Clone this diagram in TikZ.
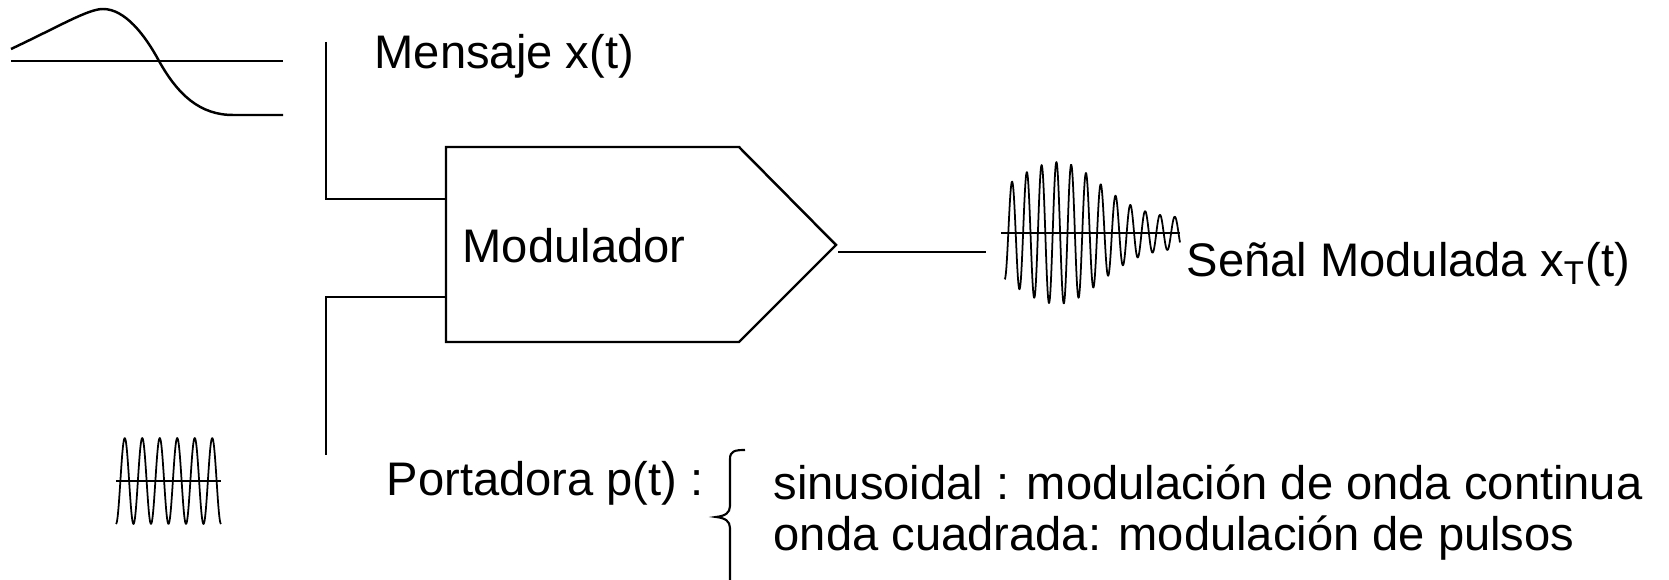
\documentclass[tikz,border=0pt]{standalone}
\usepackage{fontspec}
\setmainfont{Liberation Sans}
\tikzset{
	lbl/.style={anchor=base west, inner sep=0pt, font=\fontsize{13.4}{16}\selectfont},
	wire/.style={line width=0.6pt},
	wave/.style={line width=0.5pt, line join=round}
}

\begin{document}
\begin{tikzpicture}[x=0.01cm,y=-0.01cm,
		declare function={env(\t)=15+56*exp(-pow(abs((\t-1058)/(\t<1058?70:60)),2));}]
	\useasboundingbox (0,0) rectangle (1669,580);
	\coordinate (msg) at (326,42);
	\coordinate (car) at (326,455);
	\coordinate (in1) at (446,199);
	\coordinate (in2) at (446,297);
	\coordinate (tip) at (836,245);
	\coordinate (out) at (838,252);
	\coordinate (rx) at (986,252);
	\node[lbl] (mensaje) at (374,69) {Mensaje x(t)};
	\node[lbl] (modulador) at (462,263) {Modulador};
	\node[lbl] (senal) at (1186,277) {Señal Modulada x\textsubscript{T}(t)};
	\node[lbl] (portadora) at (386,496) {Portadora p(t) :};
	\node[lbl] (cw) at (773,500) {sinusoidal : modulación de onda continua};
	\node[lbl] (pulsos) at (773,551) {onda cuadrada: modulación de pulsos};
	% modulator block
	\draw[line width=0.7pt] (446,147) -- (739,147) -- (tip) -- (739,342) -- (446,342) -- cycle;
	\draw[wire] (msg) |- (in1);
	\draw[wire] (car) |- (in2);
	\draw[wire] (out) -- (rx);
	% message
	\draw[wire] (11,61) -- (283,61);
	\draw[line width=0.7pt] (11,49) .. controls (60,26) and (88,9) .. (103,9)
		.. controls (125,9) and (145,35) .. (159,61)
		.. controls (178,95) and (200,115) .. (233,115) -- (283,115);
	% carrier
	\draw[wave] (116,481) -- (221,481);
	\draw[wave] plot[domain=116:221, samples=200] (\x, {481-43*cos(360/17.5*(\x-124.75))});
	% modulated signal
	\draw[wave] (1001,233) -- (1180,233);
	\draw[wave] plot[domain=1004.6:1180, samples=400] (\x, {233-env(\x)*cos(360/14.8*(\x-1012))});
	% brace
	\draw[wire] (745,450) .. controls (735,450) and (730,451) .. (730,459) -- (730,506)
		.. controls (730,513) and (725,516) .. (716,517)
		.. controls (725,518) and (730,521) .. (730,528) -- (730,580);
\end{tikzpicture}
\end{document}
